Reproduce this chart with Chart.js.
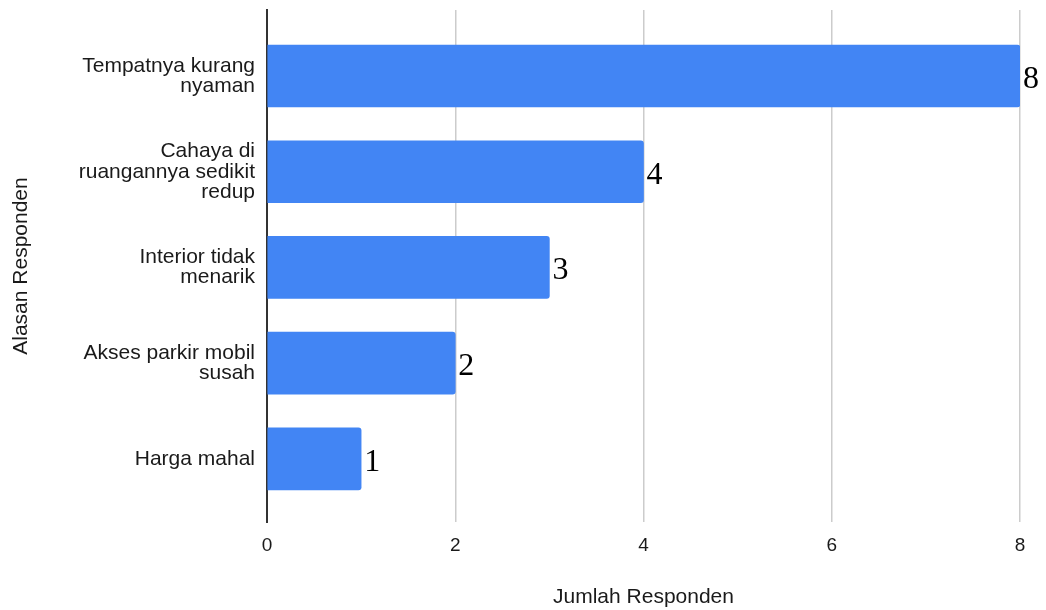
<!DOCTYPE html>
<html>
<head>
<meta charset="utf-8">
<script src="https://cdn.jsdelivr.net/npm/chart.js@4/dist/chart.umd.min.js"></script>
<style>
  html, body { margin: 0; padding: 0; background: #fff; }
  #wrap { width: 1046px; height: 610px; }
</style>
</head>
<body>
<div id="wrap"><canvas id="c" width="1046" height="610"></canvas></div>
<script>
const categories = [
  ['Tempatnya kurang', 'nyaman'],
  ['Cahaya di', 'ruangannya sedikit', 'redup'],
  ['Interior tidak', 'menarik'],
  ['Akses parkir mobil', 'susah'],
  ['Harga mahal']
];
const values = [8, 4, 3, 2, 1];
const xTicks = [0, 2, 4, 6, 8];
const xTitle = 'Jumlah Responden';
const yTitle = 'Alasan Responden';

const sansFont = "'Liberation Sans', Arial, Helvetica, sans-serif";

const valueLabels = {
  id: 'valueLabels',
  afterDatasetsDraw(chart) {
    const ctx = chart.ctx;
    const meta = chart.getDatasetMeta(0);
    ctx.save();
    ctx.font = "32px 'Liberation Serif', 'Times New Roman', serif";
    ctx.fillStyle = '#000';
    ctx.textAlign = 'left';
    ctx.textBaseline = 'alphabetic';
    meta.data.forEach((bar, i) => {
      ctx.fillText(String(values[i]), bar.x + 3, bar.y + 12);
    });
    ctx.restore();
  }
};

new Chart(document.getElementById('c'), {
  type: 'bar',
  data: {
    datasets: [{
      data: values.map((v, i) => ({ x: v, y: i })),
      backgroundColor: '#4285F4',
      borderRadius: 3,
      borderSkipped: 'start',
      barThickness: 62
    }]
  },
  options: {
    indexAxis: 'y',
    responsive: false,
    animation: false,
    devicePixelRatio: 1,
    layout: { padding: { left: 0, right: 26, top: 10, bottom: 0 } },
    plugins: {
      legend: { display: false },
      tooltip: { enabled: false }
    },
    scales: {
      x: {
        type: 'linear',
        position: 'bottom',
        min: 0,
        max: 8,
        afterBuildTicks: s => { s.ticks = xTicks.map(v => ({ value: v })); },
        afterFit: s => { s.height = 88; },
        grid: {
          color: c => (c.tick && c.tick.value === 0) ? 'rgba(0,0,0,0)' : '#cccccc',
          lineWidth: 1.5,
          drawTicks: false
        },
        border: { display: false },
        ticks: {
          padding: 12,
          color: '#1a1a1a',
          font: { family: sansFont, size: 19 }
        },
        title: {
          display: true,
          text: xTitle,
          color: '#1a1a1a',
          font: { family: sansFont, size: 21 },
          padding: { top: 0, bottom: 0 }
        }
      },
      y: {
        type: 'linear',
        reverse: true,
        offset: false,
        min: -0.69,
        max: 4.66,
        afterBuildTicks: s => { s.ticks = categories.map((_, i) => ({ value: i })); },
        afterFit: s => { s.width = 267; s.paddingTop = 0; s.paddingBottom = 0; },
        grid: { display: false, drawTicks: false },
        border: { display: true, color: '#333', width: 2 },
        ticks: {
          padding: 12,
          color: '#1a1a1a',
          font: { family: sansFont, size: 21, lineHeight: '20.5px' },
          callback: v => categories[v] || ''
        },
        title: {
          display: true,
          text: yTitle,
          color: '#1a1a1a',
          font: { family: sansFont, size: 21 },
          padding: { top: 9, bottom: 0 }
        }
      }
    }
  },
  plugins: [valueLabels]
});
</script>
</body>
</html>
